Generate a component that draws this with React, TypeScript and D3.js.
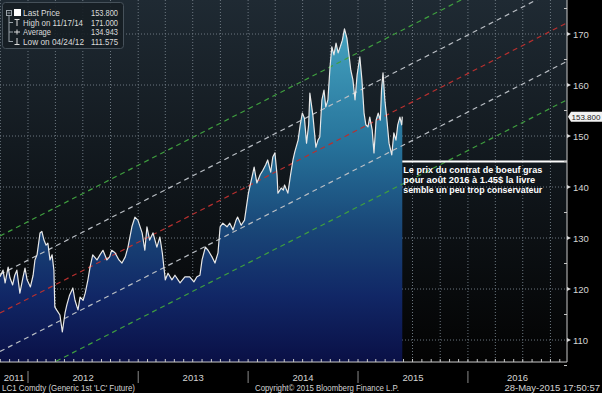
import * as d3 from 'd3';

// LC1 Comdty closes
const dates = [
  '2011-09-30', '2011-10-10', '2011-10-17', '2011-10-27', '2011-11-02', '2011-11-11', '2011-11-18', '2011-11-25',
  '2011-12-05', '2011-12-15', '2011-12-22', '2011-12-29', '2012-01-09', '2012-01-18', '2012-01-24', '2012-01-31',
  '2012-02-10', '2012-02-16', '2012-02-23', '2012-03-01', '2012-03-07', '2012-03-14', '2012-03-21', '2012-03-27',
  '2012-03-30', '2012-04-05', '2012-04-16', '2012-04-24', '2012-05-03', '2012-05-09', '2012-05-18', '2012-05-29',
  '2012-06-05', '2012-06-15', '2012-06-22', '2012-07-02', '2012-07-09', '2012-07-18', '2012-07-25', '2012-08-03',
  '2012-08-17', '2012-08-27', '2012-09-06', '2012-09-19', '2012-09-28', '2012-10-05', '2012-10-16', '2012-10-29',
  '2012-11-08', '2012-11-19', '2012-11-28', '2012-12-11', '2012-12-21', '2012-12-31', '2013-01-14', '2013-01-23',
  '2013-01-30', '2013-02-08', '2013-02-19', '2013-03-04', '2013-03-14', '2013-03-22', '2013-04-01', '2013-04-10',
  '2013-04-23', '2013-05-03', '2013-05-20', '2013-06-05', '2013-06-21', '2013-07-05', '2013-07-15', '2013-07-25',
  '2013-08-01', '2013-08-12', '2013-08-21', '2013-09-03', '2013-09-13', '2013-09-23', '2013-09-30', '2013-10-09',
  '2013-10-23', '2013-11-01', '2013-11-12', '2013-11-22', '2013-11-27', '2013-12-09', '2013-12-20', '2014-01-02',
  '2014-01-14', '2014-01-21', '2014-01-30', '2014-02-10', '2014-02-19', '2014-02-28', '2014-03-07', '2014-03-17',
  '2014-03-24', '2014-03-31', '2014-04-07', '2014-04-10', '2014-04-21', '2014-04-28', '2014-05-02', '2014-05-13',
  '2014-05-22', '2014-05-30', '2014-06-05', '2014-06-16', '2014-06-23', '2014-06-30', '2014-07-07', '2014-07-14',
  '2014-07-21', '2014-07-25', '2014-08-04', '2014-08-14', '2014-08-21', '2014-08-27', '2014-09-03', '2014-09-10',
  '2014-09-16', '2014-09-23', '2014-09-30', '2014-10-06', '2014-10-13', '2014-10-20', '2014-10-27', '2014-11-03',
  '2014-11-10', '2014-11-17', '2014-11-25', '2014-12-02', '2014-12-08', '2014-12-15', '2014-12-22', '2014-12-29',
  '2015-01-07', '2015-01-14', '2015-01-21', '2015-01-27', '2015-02-03', '2015-02-09', '2015-02-17', '2015-02-23',
  '2015-03-02', '2015-03-09', '2015-03-16', '2015-03-20', '2015-03-25', '2015-03-31', '2015-04-07', '2015-04-14',
  '2015-04-23', '2015-04-30', '2015-05-07', '2015-05-13', '2015-05-20', '2015-05-26', '2015-05-28',
];
const prices = [
  122.4, 123.7, 121.2, 124.3, 122.2, 120.8, 122.7, 123.7,
  119.2, 122.2, 124.1, 121.8, 120.4, 122.7, 125.7, 126.7,
  131.0, 131.3, 129.6, 128.6, 129.0, 125.7, 126.7, 123.7,
  116.5, 115.9, 114.9, 111.575, 115.3, 116.9, 118.8, 120.2,
  117.8, 115.9, 118.4, 117.8, 119.2, 121.8, 124.3, 126.7,
  125.7, 126.7, 127.6, 125.7, 126.3, 127.6, 127.1, 125.7,
  125.1, 126.3, 128.2, 132.2, 134.1, 133.5, 131.0, 127.6,
  132.2, 129.6, 131.0, 128.2, 130.2, 127.1, 121.8, 123.1,
  121.8, 122.7, 121.2, 122.4, 122.4, 121.4, 122.4, 122.7,
  125.7, 128.2, 127.6, 126.3, 125.1, 127.1, 132.2, 132.9,
  132.2, 132.9, 131.6, 133.5, 134.1, 132.5, 133.5, 138.8,
  142.0, 143.9, 140.8, 142.4, 143.3, 144.3, 145.3, 142.9,
  145.9, 146.7, 142.4, 138.8, 139.8, 139.4, 140.4, 138.8,
  142.4, 145.3, 146.9, 149.2, 152.2, 154.5, 153.5, 148.6,
  152.2, 158.4, 154.1, 147.8, 149.2, 149.8, 157.1, 159.0,
  155.7, 157.1, 163.5, 167.5, 165.9, 168.2, 166.3, 167.5,
  168.8, 171.0, 169.2, 165.9, 162.9, 161.0, 157.1, 162.0,
  165.5, 161.0, 154.5, 152.2, 151.8, 153.7, 151.2, 146.7,
  153.1, 154.5, 153.1, 159.0, 162.4, 157.1, 153.1, 148.6,
  146.3, 150.6, 149.2, 152.2, 153.7, 152.2, 153.8,
];

// trend channel: centre line at both chart edges, band offsets
const channelDates = ['2011-09-30', '2016-11-25'];
const channelCentre = [115.3, 172.2];
const channelOffsets = [15.1, 7.55, 0, -7.55, -15.1];
const channelColors = ['#3f9f3f', '#b9bec4', '#b8302f', '#b9bec4', '#3f9f3f'];

const yTicks = [110, 120, 130, 140, 150, 160, 170];
const yMinorTicks = [105, 115, 125, 135, 145, 155, 165, 175];
const years = [2011, 2012, 2013, 2014, 2015, 2016];

const legendLabels = ['Last Price', 'High on 11/17/14', 'Average', 'Low on 04/24/12'];
const legendValues = ['153.800', '171.000', '134.943', '111.575'];

const noteLevel = 145;
const noteLines = [
  'Le prix du contrat de boeuf gras',
  'pour août 2016 à 1.45$ la livre',
  'semble un peu trop conservateur',
];

const W = 602;
const H = 393;
const plotW = 567;
const plotH = 362;
const font = '"Liberation Sans", Arial, sans-serif';
const labelWidths = [37, 60, 28, 61];

const parse = d3.timeParse('%Y-%m-%d');

export default function App() {
  const data = dates.map((d, i) => ({ date: parse(d) as Date, value: prices[i] }));
  const x = d3.scaleTime()
    .domain([parse(channelDates[0]) as Date, parse(channelDates[1]) as Date])
    .range([0, plotW]);
  const y = d3.scaleLinear().domain([105.69, 176.67]).range([plotH, 0]);

  const line = d3.line<{ date: Date; value: number }>()
    .x(d => x(d.date))
    .y(d => y(d.value));
  const area = d3.area<{ date: Date; value: number }>()
    .x(d => x(d.date))
    .y0(plotH)
    .y1(d => y(d.value));

  const [d0, d1] = x.domain();
  const quarters = d3.timeMonth.every(3)!.range(d0, d1);
  const months = d3.timeMonth.range(d0, d1);
  const yearStarts = d3.timeYear.range(d0, d1);
  const last = data[data.length - 1];
  const lastX = x(last.date);

  const yearLabel = (yr: number) => {
    const a = Math.max(0, x(new Date(yr, 0, 1)));
    const b = Math.min(plotW, x(new Date(yr + 1, 0, 1)));
    return (a + b) / 2;
  };

  return (
    <svg width={W} height={H} style={{ position: 'absolute', left: 0, top: 0, background: '#000' }}>
      <defs>
        <linearGradient id="bg" x1="0" y1="0" x2="0" y2="1">
          <stop offset="0" stopColor="#1f2a33" />
          <stop offset="0.5" stopColor="#10161b" />
          <stop offset="1" stopColor="#030303" />
        </linearGradient>
        <linearGradient id="fill" gradientUnits="userSpaceOnUse" x1="0" y1="30" x2="0" y2={plotH}>
          <stop offset="0" stopColor="#44a2bf" />
          <stop offset="0.35" stopColor="#26729a" />
          <stop offset="0.6" stopColor="#194677" />
          <stop offset="0.8" stopColor="#112766" />
          <stop offset="1" stopColor="#0a1046" />
        </linearGradient>
        <clipPath id="plot">
          <rect x={0} y={0} width={plotW} height={plotH} />
        </clipPath>
      </defs>

      <rect x={0} y={0} width={plotW} height={plotH} fill="url(#bg)" />

      <g clipPath="url(#plot)">
        {/* grid */}
        {quarters.map((q, i) => (
          <line key={'vq' + i} x1={x(q)} x2={x(q)} y1={0} y2={plotH}
            stroke="#6c7780" strokeWidth={1} strokeDasharray="1,2" />
        ))}
        {yTicks.map(t => (
          <line key={'hg' + t} x1={0} x2={plotW} y1={y(t)} y2={y(t)}
            stroke="#6c7780" strokeWidth={1} strokeDasharray="1,2" />
        ))}

        <path d={area(data) || ''} fill="url(#fill)" />

        {channelOffsets.map((off, i) => (
          <line key={'ch' + i}
            x1={x(parse(channelDates[0]) as Date)} y1={y(channelCentre[0] + off)}
            x2={x(parse(channelDates[1]) as Date)} y2={y(channelCentre[1] + off)}
            stroke={channelColors[i]} strokeWidth={1.2} strokeDasharray="5,4" />
        ))}

        <path d={line(data) || ''} fill="none" stroke="#e8e8e8" strokeWidth={1.2} strokeLinejoin="round" />
      </g>

      {/* note */}
      <line x1={lastX} x2={plotW} y1={y(noteLevel)} y2={y(noteLevel)} stroke="#ffffff" strokeWidth={2} />
      {noteLines.map((t, i) => (
        <text key={'n' + i} x={lastX + 1} y={173 + i * 10} fill="#ffffff" fontFamily={font}
          fontWeight="bold" fontSize={9.5} textLength={i === 1 ? 132 : 139} lengthAdjust="spacingAndGlyphs">{t}</text>
      ))}

      {/* right axis */}
      <line x1={plotW} x2={plotW} y1={0} y2={plotH} stroke="#c9c9c9" strokeWidth={1} />
      {yMinorTicks.map(t => (
        <line key={'ym' + t} x1={plotW - 3} x2={plotW} y1={y(t)} y2={y(t)} stroke="#c9c9c9" />
      ))}
      {yTicks.map(t => (
        <g key={'yt' + t}>
          <path d={`M${plotW},${y(t) - 2}L${plotW + 4},${y(t)}L${plotW},${y(t) + 2}Z`} fill="#d8d8d8" />
          <text x={plotW + 6} y={y(t) + 3.5} fill="#d4d4d4" fontFamily={font} fontSize={9.5}>{t}</text>
        </g>
      ))}
      <path d={`M${plotW + 1},${y(last.value)}L${plotW + 4},${y(last.value) - 5}H${W}V${y(last.value) + 5}H${plotW + 4}Z`}
        fill="#f2f2f2" />
      <text x={plotW + 4.5} y={y(last.value) + 3} fill="#222" fontFamily={font} fontSize={8}>
        {last.value.toFixed(3)}
      </text>

      {/* bottom axis */}
      <line x1={0} x2={plotW} y1={plotH} y2={plotH} stroke="#c9c9c9" strokeWidth={1} />
      {months.map((m, i) => (
        <line key={'mt' + i} x1={x(m)} x2={x(m)} y1={plotH - 3} y2={plotH} stroke="#c9c9c9" />
      ))}
      {yearStarts.map((ys, i) => (
        <line key={'ys' + i} x1={x(ys)} x2={x(ys)} y1={371} y2={383} stroke="#8a8a8a" />
      ))}
      {years.map(yr => (
        <text key={'yl' + yr} x={yearLabel(yr)} y={381} fill="#d4d4d4" fontFamily={font}
          fontSize={9.5} textAnchor="middle">{yr}</text>
      ))}

      {/* footer */}
      <text x={2} y={391} fill="#d4d4d4" fontFamily={font} fontSize={9.5} textLength={133}
        lengthAdjust="spacingAndGlyphs">LC1 Comdty (Generic 1st 'LC' Future)</text>
      <text x={255} y={391} fill="#d4d4d4" fontFamily={font} fontSize={9.5} textLength={144}
        lengthAdjust="spacingAndGlyphs">Copyright© 2015 Bloomberg Finance L.P.</text>
      <text x={600} y={391} fill="#d4d4d4" fontFamily={font} fontSize={9.5} textAnchor="end">
        28-May-2015 17:50:57
      </text>

      {/* legend */}
      <g fontFamily={font} fontSize={8.2} fill="#dcdcdc">
        <rect x={2.5} y={2.5} width={121} height={46} rx={3} fill="#161e24" fillOpacity={0.9} stroke="#46515a" />
        <rect x={6.5} y={10.5} width={5} height={5} fill="none" stroke="#9aa3aa" />
        <line x1={7.5} x2={10.5} y1={13} y2={13} stroke="#9aa3aa" />
        <line x1={9} x2={9} y1={16} y2={42} stroke="#9aa3aa" />
        {[22.5, 32, 41.5].map(ry => (
          <line key={'br' + ry} x1={9} x2={13} y1={ry} y2={ry} stroke="#9aa3aa" />
        ))}
        <rect x={14} y={9} width={7} height={7} fill="#ffffff" />
        <path d="M14.5,19.5H19.5M17,19.5V26" stroke="#dcdcdc" fill="none" />
        <path d="M14,32H20M17,29.5V34.5" stroke="#dcdcdc" fill="none" />
        <path d="M14.5,44.5H19.5M17,38V44.5" stroke="#dcdcdc" fill="none" />
        {legendLabels.map((label, i) => (
          <g key={'lg' + i}>
            <text x={23} y={16 + i * 9.5} textLength={labelWidths[i]} lengthAdjust="spacingAndGlyphs">{label}</text>
            <text x={91} y={16 + i * 9.5} textLength={27} lengthAdjust="spacingAndGlyphs">{legendValues[i]}</text>
          </g>
        ))}
      </g>
    </svg>
  );
}
